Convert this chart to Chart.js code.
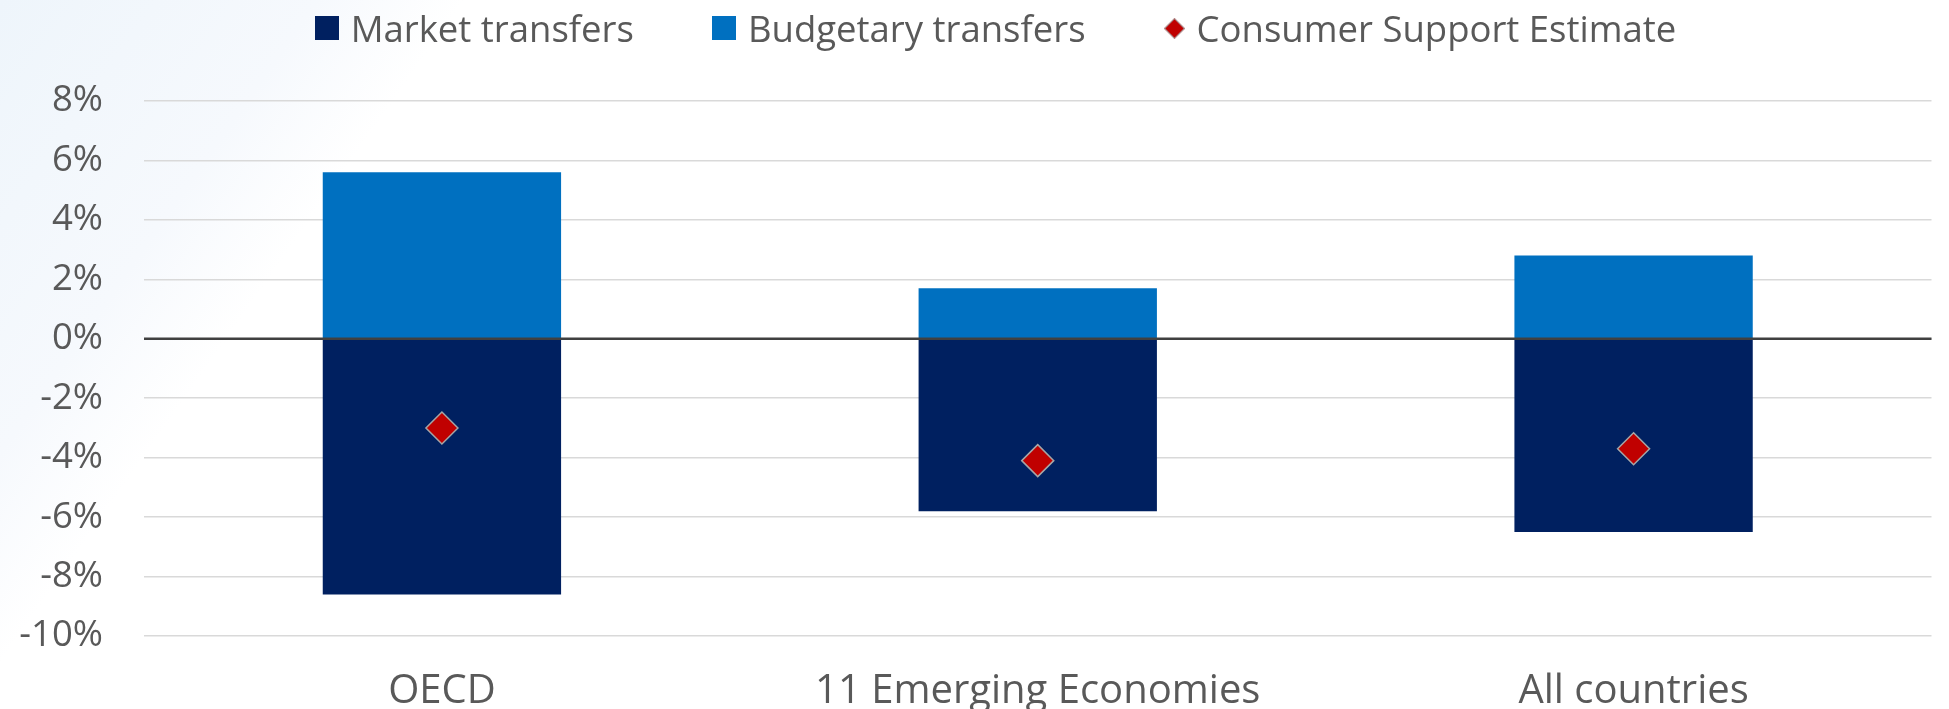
<!DOCTYPE html>
<html>
<head>
<meta charset="utf-8">
<title>Producer and consumer transfers</title>
<script src="https://cdn.jsdelivr.net/npm/chart.js@4/dist/chart.umd.min.js"></script>
<style>
  html, body { margin: 0; padding: 0; }
  body {
    width: 1949px; height: 709px; overflow: hidden;
    background: linear-gradient(125deg, #eef5fb 0%, #f6f9fd 13%, #ffffff 19%);
    font-family: "Open Sans", sans-serif;
  }
  .wrap { position: relative; width: 1949px; height: 709px; }
  .legend {
    position: absolute; top: 0; left: 0; width: 1949px; height: 56px;
    box-sizing: border-box; padding-left: 42px;
    display: flex; justify-content: center; align-items: center; gap: 78px;
    color: #595959; font-size: 36.5px;
  }
  .legend .item { display: flex; align-items: center; gap: 12px; white-space: nowrap; }
  .legend .sq { width: 24px; height: 24px; }
  .legend .dia {
    width: 13px; height: 13px; margin: 0 3px; transform: rotate(45deg);
    background: #c00000; border: 1.5px solid #a6a6a6;
  }
  canvas { position: absolute; top: 0; left: 0; }
</style>
</head>
<body>
<div class="wrap">
  <canvas id="csChart" width="1949" height="709"></canvas>
  <div class="legend" id="legend"></div>
</div>
<script>
const categories = ['OECD', '11 Emerging Economies', 'All countries'];
const marketTransfers = [-8.6, -5.8, -6.5];
const budgetaryTransfers = [5.6, 1.7, 2.8];
const consumerSupport = [-3.0, -4.1, -3.7];
const yTicks = [-10, -8, -6, -4, -2, 0, 2, 4, 6, 8];

const navy = '#002060';
const blue = '#0070c0';
const red = '#c00000';
const textGrey = '#595959';

// zero line sits on top of the bars, like the original
const zeroLine = {
  id: 'zeroLine',
  afterDatasetsDraw(chart) {
    const { ctx, chartArea, scales } = chart;
    const y = scales.y.getPixelForValue(0);
    ctx.save();
    ctx.strokeStyle = '#404040';
    ctx.lineWidth = 2.5;
    ctx.beginPath();
    ctx.moveTo(chartArea.left, y);
    ctx.lineTo(chartArea.right, y);
    ctx.stroke();
    ctx.restore();
  }
};

const ctx = document.getElementById('csChart').getContext('2d');
const chart = new Chart(ctx, {
  type: 'bar',
  data: {
    labels: categories,
    datasets: [
      {
        type: 'line',
        label: 'Consumer Support Estimate',
        data: consumerSupport,
        stack: 'cse',
        showLine: false,
        pointStyle: 'rectRot',
        pointRadius: 16,
        pointHoverRadius: 16,
        pointBackgroundColor: red,
        pointBorderColor: '#a6a6a6',
        pointBorderWidth: 1.5,
        order: 0,
      },
      {
        label: 'Market transfers',
        data: marketTransfers,
        backgroundColor: navy,
        stack: 'pse',
        order: 1,
      },
      {
        label: 'Budgetary transfers',
        data: budgetaryTransfers,
        backgroundColor: blue,
        stack: 'pse',
        order: 1,
      },
    ],
  },
  options: {
    responsive: false,
    animation: false,
    layout: { padding: { top: 101, right: 1, left: 0, bottom: 0 } },
    datasets: {
      bar: { categoryPercentage: 1, barPercentage: 0.4 },
    },
    plugins: {
      legend: { display: false },
      tooltip: { enabled: false },
    },
    scales: {
      x: {
        stacked: true,
        afterFit: (axis) => { axis.height = 73; },
        grid: { display: false, drawTicks: false },
        border: { display: false },
        ticks: {
          color: textGrey,
          padding: 32,
          maxRotation: 0,
          font: { family: '"Open Sans", sans-serif', size: 40 },
        },
      },
      y: {
        stacked: true,
        min: -10,
        max: 8,
        afterBuildTicks: (axis) => { axis.ticks = yTicks.map((v) => ({ value: v })); },
        afterFit: (axis) => { axis.width = 144; },
        grid: { color: '#d9d9d9', lineWidth: 1.5, drawTicks: false },
        border: { display: false },
        ticks: {
          color: textGrey,
          padding: 41,
          font: { family: '"Open Sans", sans-serif', size: 36.5 },
          callback: (v) => v + '%',
        },
      },
    },
  },
  plugins: [zeroLine],
});

// legend in the original order: the two bar series, then the diamond
const legendEl = document.getElementById('legend');
[
  { text: 'Market transfers', color: navy },
  { text: 'Budgetary transfers', color: blue },
  { text: 'Consumer Support Estimate', diamond: true },
].forEach((it) => {
  const item = document.createElement('div');
  item.className = 'item';
  const mark = document.createElement('span');
  if (it.diamond) {
    mark.className = 'dia';
  } else {
    mark.className = 'sq';
    mark.style.background = it.color;
  }
  const label = document.createElement('span');
  label.textContent = it.text;
  item.appendChild(mark);
  item.appendChild(label);
  legendEl.appendChild(item);
});
</script>
</body>
</html>
